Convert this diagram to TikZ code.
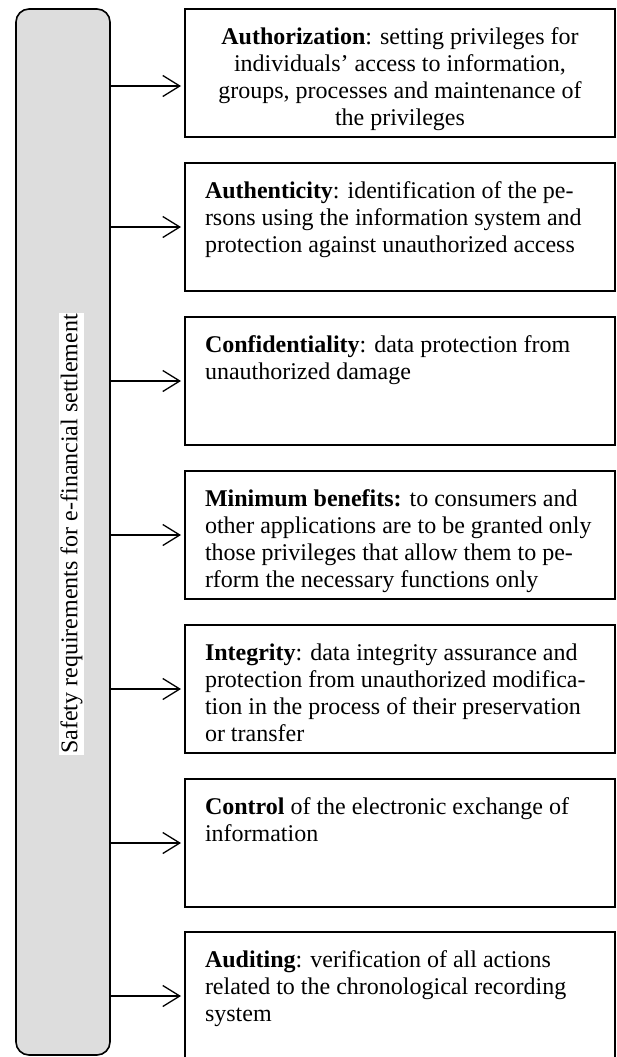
\documentclass[tikz,border=0pt]{standalone}
\usepackage{fontspec}
\setmainfont{Liberation Serif}
\usetikzlibrary{arrows.meta}
\definecolor{bargrey}{RGB}{221,221,221}
\tikzset{
	reqbox/.style={draw, line width=1.6pt, anchor=north west, outer sep=0pt,
		minimum width=430pt, minimum height=128pt, inner xsep=20pt, inner ysep=19pt,
		font=\fontsize{24}{27}\selectfont},
	reqarrow/.style={line width=1.3pt, -{Straight Barb[length=17pt,width=21pt]}, shorten >=4pt},
}
\newcommand{\reqtext}[2][\raggedright]{\parbox[t][90pt][t]{390pt}{#1#2}}

\begin{document}
\begin{tikzpicture}[x=1pt, y=-1pt]
			%%%%% START %%%%%
			\useasboundingbox (0, 0) rectangle (617, 1057);
			\clip (0, 0) rectangle (617, 1057);
			
			\node[draw, line width=1.6pt, fill=bargrey, rounded corners=13pt, anchor=north west,
				outer sep=0pt, inner sep=0pt, minimum width=94pt, minimum height=1046pt] (bar) at (16, 9) {};
			\node[fill=white, rotate=90, inner sep=1.5pt, font=\fontsize{24}{27}\selectfont] (title) at (71.5, 534)
				{Safety requirements for e-financial settlement};
			
			\node[reqbox] (req1) at (185, 9) {\reqtext[\centering]{\textbf{Authorization}: setting privileges for\\
				individuals’ access to information,\\ groups, processes and maintenance of\\ the privileges}};
			\node[reqbox] (req2) at (185, 163) {\reqtext{\textbf{Authenticity}: identification of the pe-\\
				rsons using the information system and\\ protection against unauthorized access}};
			\node[reqbox] (req3) at (185, 317) {\reqtext{\textbf{Confidentiality}: data protection from\\
				unauthorized damage}};
			\node[reqbox] (req4) at (185, 471) {\reqtext{\textbf{Minimum benefits:} to consumers and\\
				other applications are to be granted only\\ those privileges that allow them to pe-\\
				rform the necessary functions only}};
			\node[reqbox] (req5) at (185, 625) {\reqtext{\textbf{Integrity}: data integrity assurance and\\
				protection from unauthorized modifica-\\ tion in the process of their preservation\\ or transfer}};
			\node[reqbox] (req6) at (185, 779) {\reqtext{\textbf{Control} of the electronic exchange of\\
				information}};
			\node[reqbox] (req7) at (185, 932) {\reqtext{\textbf{Auditing}: verification of all actions\\
				related to the chronological recording\\ system}};
			
			\draw[reqarrow] ([yshift=-13pt]bar.east |- req1.west) -- ([yshift=-13pt]req1.west);
			\draw[reqarrow] (bar.east |- req2.west) -- (req2.west);
			\draw[reqarrow] (bar.east |- req3.west) -- (req3.west);
			\draw[reqarrow] (bar.east |- req4.west) -- (req4.west);
			\draw[reqarrow] (bar.east |- req5.west) -- (req5.west);
			\draw[reqarrow] (bar.east |- req6.west) -- (req6.west);
			\draw[reqarrow] (bar.east |- req7.west) -- (req7.west);
			
			%%%%% END %%%%%
\end{tikzpicture}
\end{document}
